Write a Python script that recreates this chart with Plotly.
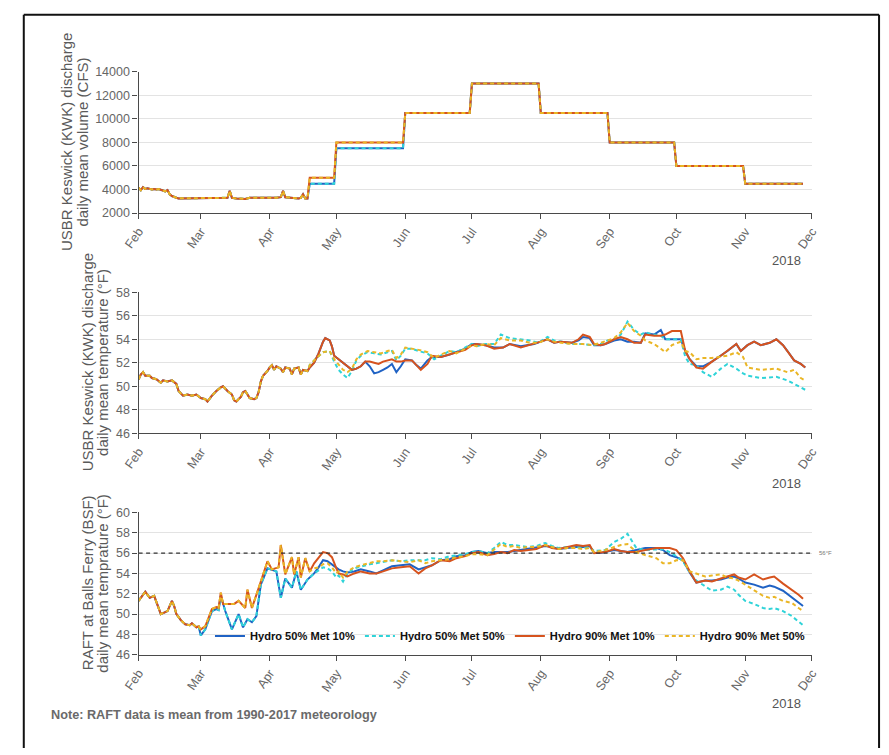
import pandas as pd
import plotly.graph_objects as go

# ---------------- DATA (days counted from 2018-02-01) ----------------
START = "2018-02-01"
END = "2018-12-01"
month_ticks = ["2018-02-01", "2018-03-01", "2018-04-01", "2018-05-01", "2018-06-01", "2018-07-01",
               "2018-08-01", "2018-09-01", "2018-10-01", "2018-11-01", "2018-12-01"]
month_labels = ["Feb", "Mar", "Apr", "May", "Jun", "Jul", "Aug", "Sep", "Oct", "Nov", "Dec"]

series_names = ["Hydro 50% Met 10%", "Hydro 50% Met 50%", "Hydro 90% Met 10%", "Hydro 90% Met 50%"]

# Discharge (CFS)
dis_shared_days = [0, 1, 2, 3, 4, 5, 6, 7, 8, 9, 10, 11, 12, 13, 14, 15, 16, 17, 18, 22, 26, 30, 34, 38, 40, 41,
                   42, 44, 48, 50, 54, 58, 62, 64, 65, 66, 68, 72, 73, 74, 75, 76]
dis_shared_vals = [4150, 3950, 4200, 4050, 4100, 4050, 4000, 4050, 4000, 4050, 4000, 3950, 3850, 3950, 3600, 3450,
                   3350, 3300, 3250, 3250, 3250, 3300, 3250, 3300, 3300, 3900, 3300, 3250, 3200, 3300, 3300, 3250,
                   3300, 3350, 3900, 3350, 3300, 3250, 3300, 3600, 3250, 3250]
dis_step_days = [77, 88, 89, 119, 120, 149, 150, 180, 181, 211, 212, 241, 242, 272, 273, 299]
dis_hydro90_vals = [5000, 5000, 8000, 8000, 10500, 10500, 13000, 13000, 10500, 10500, 8000, 8000, 6000, 6000, 4500, 4500]
dis_hydro50_vals = [4500, 4500, 7500, 7500, 10500, 10500, 13000, 13000, 10500, 10500, 8000, 8000, 6000, 6000, 4500, 4500]

# Keswick temperature (F)
mid_shared_days = [0, 1, 2, 3, 5, 6, 8, 10, 11, 13, 15, 17, 18, 20, 22, 24, 26, 28, 30, 31, 33, 35, 37, 38, 40, 42,
                   43, 44, 46, 47, 48, 50, 52, 53, 54, 55, 56, 58, 59, 60, 61, 62, 64, 65, 66, 68, 69, 70, 72, 73, 74, 76]
mid_shared_vals = [50.6, 51.0, 51.2, 50.9, 50.9, 50.7, 50.6, 50.3, 50.5, 50.4, 50.5, 50.2, 49.6, 49.2, 49.3, 49.2,
                   49.3, 49.0, 48.9, 48.7, 49.2, 49.6, 49.9, 50.0, 49.6, 49.3, 48.8, 48.7, 49.1, 49.5, 49.6, 49.0,
                   48.9, 49.0, 49.5, 50.4, 50.9, 51.3, 51.6, 51.8, 51.4, 51.7, 51.5, 51.2, 51.6, 51.5, 51.0, 51.5,
                   51.6, 51.0, 51.4, 51.3]
mid_met10_days = [77, 79, 81, 83, 84, 85, 86, 87, 88, 90, 92, 94, 96, 98, 100, 102, 104, 106, 108, 110, 112, 114, 116,
                  118, 120, 123, 125, 127, 130, 132, 136, 140, 143, 147, 150,
                  152, 156, 160, 164, 167, 172, 176, 178, 181, 184, 187, 190, 195, 198, 200, 203, 205, 208, 210, 214,
                  217, 220, 223, 226, 228, 232, 235, 237, 240, 244, 246, 248, 251, 254, 258, 262, 265, 269, 271, 274,
                  277, 280, 284, 287, 290, 292, 295, 298, 300]
mid_h50m10_vals = [51.6, 52.0, 52.8, 53.8, 54.1, 54.0, 53.9, 53.4, 52.6, 52.3, 52.0, 51.7, 51.4, 51.5, 51.7, 52.1,
                   51.7, 51.1, 51.2, 51.4, 51.6, 51.9, 51.2, 51.7, 52.3, 52.2, 51.8, 51.5, 52.2, 52.5, 52.5, 52.7,
                   52.9, 53.2, 53.6,
                   53.6, 53.5, 53.3, 53.3, 53.6, 53.4, 53.5, 53.6, 53.8, 54.0, 53.7, 53.8, 53.7, 53.9, 54.2, 54.1,
                   53.5, 53.5, 53.6, 53.9, 54.0, 53.8, 53.8, 53.7, 54.5, 54.4, 54.8, 54.0, 54.0, 54.0, 53.0, 52.3,
                   51.7, 51.7, 52.1, 52.6, 53.0, 53.6, 53.0, 53.5, 53.8, 53.5, 53.7, 54.0, 53.5, 53.0, 52.2, 51.9, 51.6]
mid_h90m10_vals = [51.6, 52.0, 52.8, 53.8, 54.1, 54.0, 53.9, 53.4, 52.6, 52.3, 52.0, 51.7, 51.4, 51.5, 51.7, 52.1,
                   52.1, 52.0, 51.9, 52.1, 52.2, 52.3, 52.1, 52.1, 52.2, 52.2, 51.8, 51.4, 51.9, 52.6, 52.5, 52.7,
                   52.9, 53.1, 53.5,
                   53.6, 53.5, 53.2, 53.3, 53.6, 53.3, 53.5, 53.6, 53.8, 54.0, 53.7, 53.8, 53.7, 54.0, 54.4, 54.2,
                   53.6, 53.5, 53.6, 54.0, 54.2, 54.0, 53.7, 53.7, 54.4, 54.3, 54.3, 54.4, 54.7, 54.7, 53.0, 52.3,
                   51.6, 51.5, 52.1, 52.6, 53.0, 53.6, 53.0, 53.5, 53.8, 53.5, 53.7, 54.0, 53.5, 53.0, 52.2, 51.9, 51.6]
mid_met50_days = [77, 80, 83, 86, 88, 90, 92, 94, 96, 98, 100, 103, 106, 109, 112, 114, 116, 118, 120, 123, 126, 130,
                  133, 136, 140, 143, 147, 150,
                  152, 156, 160, 163, 167, 172, 176, 180, 184, 187, 190, 195, 200, 204, 208, 211, 214, 217, 220, 223,
                  226, 228, 232, 235, 237, 240, 244, 246, 248, 251, 254, 258, 262, 265, 269, 272, 274, 280, 287, 292,
                  295, 298, 300]
mid_h50m50_vals = [51.8, 52.4, 52.9, 53.0, 52.1, 51.4, 51.0, 50.7, 51.3, 52.2, 52.6, 52.9, 52.8, 52.7, 52.9, 53.0,
                   52.2, 52.6, 53.2, 53.2, 53.0, 52.8, 52.3, 52.6, 53.0, 52.9, 53.3, 53.6,
                   53.4, 53.6, 53.6, 54.4, 54.1, 54.0, 53.9, 53.7, 54.2, 53.9, 53.8, 53.6, 53.6, 53.5, 53.6, 53.9,
                   54.0, 54.4, 55.5, 54.8, 54.4, 54.6, 54.4, 54.3, 54.0, 54.0, 54.0, 52.5, 51.9, 51.8, 51.2, 50.8,
                   51.5, 51.9, 51.5, 51.1, 50.9, 50.7, 50.8, 50.5, 50.2, 49.9, 49.7]
mid_h90m50_vals = [51.8, 52.4, 52.9, 53.0, 52.3, 51.8, 51.4, 51.2, 51.5, 52.3, 52.7, 53.0, 52.9, 52.8, 53.0, 53.1,
                   52.4, 52.7, 53.3, 53.2, 53.1, 52.9, 52.4, 52.7, 53.0, 52.8, 53.2, 53.5,
                   53.4, 53.6, 53.5, 54.1, 53.9, 53.9, 53.7, 53.7, 54.0, 53.8, 53.7, 53.6, 53.6, 53.5, 53.7, 53.9,
                   54.1, 54.6, 55.4, 54.7, 54.3, 53.9, 53.6, 53.2, 52.9, 53.5, 53.8, 53.0, 52.9, 52.3, 52.4, 52.4,
                   52.5, 52.6, 52.9, 52.5, 51.6, 51.4, 51.5, 51.2, 51.4, 50.7, 50.5]

# Balls Ferry temperature (F)
bot_shared_days = [0, 2, 3, 5, 7, 8, 10, 12, 13, 15, 16, 17, 19, 21, 23, 24, 26, 27]
bot_shared_vals = [51.3, 51.9, 52.2, 51.6, 51.8, 51.2, 50.0, 50.2, 50.3, 51.3, 50.8, 50.0, 49.4, 49.0, 48.9, 49.1,
                   48.7, 48.8]
bot_h90_early_days = [28, 30, 32, 33, 35, 36, 37, 38, 40, 43, 45, 48, 49, 51, 55, 58, 60, 63, 64, 66, 69, 70, 72,
                      73, 75, 77]
bot_h90_early_vals = [48.5, 48.8, 50.0, 50.5, 50.7, 50.6, 52.1, 51.0, 51.0, 51.0, 51.3, 50.6, 52.4, 50.6, 53.2,
                      55.2, 54.4, 54.6, 56.8, 53.9, 55.6, 53.9, 55.6, 53.6, 55.5, 54.2]
bot_h50_early_days = [28, 30, 32, 33, 35, 36, 37, 39, 42, 45, 47, 49, 51, 53, 55, 58, 62, 64, 66, 69, 71, 73, 76, 77]
bot_h50_early_vals = [47.9, 48.5, 49.8, 50.3, 50.5, 50.4, 51.8, 50.3, 48.5, 50.0, 48.7, 49.5, 49.2, 49.8, 52.9,
                      54.5, 54.2, 51.6, 53.5, 52.6, 54.2, 52.4, 53.4, 53.6]
bot_tail_days = [79, 81, 83, 85, 87, 89, 90, 92, 94, 97, 100, 104, 107, 110, 114, 118, 122, 126, 129, 132, 136, 140,
                 143, 147, 150,
                 153, 157, 160, 163, 166, 169, 172, 175, 179, 183, 186, 189, 193, 197, 200, 203, 205, 208, 210, 214,
                 217, 220, 224, 228, 233, 236, 239, 242, 245, 248, 251, 255, 258, 262, 265, 268, 270, 273, 277, 281,
                 284, 286, 290, 294, 297, 299]
bot_h50m10_tail = [54.0, 54.6, 55.3, 55.2, 54.9, 54.6, 54.4, 54.2, 54.1, 54.2, 54.4, 54.2, 54.0, 54.3, 54.7, 54.8,
                   54.9, 54.4, 54.6, 54.8, 55.3, 55.4, 55.7, 55.8, 56.1,
                   56.2, 56.0, 56.1, 56.1, 56.1, 56.2, 56.3, 56.4, 56.5, 56.7, 56.6, 56.4, 56.5, 56.6, 56.6, 56.7,
                   56.0, 56.0, 56.1, 56.3, 56.2, 56.1, 56.3, 56.5, 56.5, 56.3, 55.8, 55.6, 55.3, 54.1, 53.1, 53.3,
                   53.3, 53.4, 53.6, 53.7, 53.5, 53.1, 52.9, 52.6, 52.8, 52.7, 52.3, 51.6, 51.1, 50.8]
bot_h50m50_tail = [54.0, 54.3, 54.6, 54.5, 54.2, 53.6, 53.8, 53.2, 54.0, 54.5, 54.7, 54.9, 55.0, 55.1, 55.3, 55.2,
                   55.3, 55.3, 55.3, 55.5, 55.4, 55.7, 55.8, 55.9, 56.1,
                   56.2, 56.0, 56.5, 57.1, 56.8, 56.8, 56.7, 56.6, 56.7, 57.0, 56.7, 56.5, 56.6, 56.6, 56.5, 56.6,
                   56.2, 56.3, 56.3, 57.1, 57.4, 57.9, 56.5, 56.3, 56.4, 56.4, 56.1, 55.7, 55.2, 54.1, 53.3, 52.7,
                   52.3, 52.4, 52.7, 52.4, 51.9, 51.3, 51.0, 50.6, 50.5, 50.6, 50.3, 49.8, 49.3, 48.9]
bot_h90m10_tail = [55.0, 55.5, 56.1, 56.0, 55.6, 54.5, 54.0, 53.9, 53.7, 54.0, 54.2, 54.0, 54.0, 54.2, 54.5, 54.6,
                   54.7, 54.0, 54.5, 54.8, 55.3, 55.2, 55.5, 55.7, 56.0,
                   56.1, 55.8, 55.9, 56.1, 56.0, 56.3, 56.2, 56.3, 56.4, 56.8, 56.5, 56.4, 56.6, 56.8, 56.7, 56.8,
                   56.0, 56.1, 56.1, 56.4, 56.2, 56.1, 56.1, 56.3, 56.5, 56.5, 56.5, 56.3, 55.5, 54.2, 53.1, 53.3,
                   53.2, 53.5, 53.7, 53.9, 53.6, 53.4, 53.9, 53.4, 53.6, 53.7, 53.0, 52.4, 51.9, 51.5]
bot_h90m50_tail = [54.5, 54.6, 54.9, 55.0, 54.6, 54.0, 54.2, 53.6, 54.2, 54.6, 54.8, 55.0, 55.2, 55.2, 55.3, 55.2,
                   55.1, 55.3, 55.0, 55.2, 55.3, 55.4, 55.6, 55.7, 55.9,
                   55.9, 55.8, 56.4, 56.9, 56.6, 56.7, 56.5, 56.6, 56.6, 56.8, 56.6, 56.4, 56.5, 56.5, 56.4, 56.5,
                   56.1, 56.2, 56.3, 56.6, 56.8, 56.9, 56.1, 55.8, 55.5, 55.0, 55.0, 55.3, 55.3, 54.2, 54.0, 53.7,
                   53.8, 53.9, 53.6, 53.5, 53.3, 52.9, 52.3, 51.8, 51.6, 51.7, 51.3, 51.1, 50.6, 50.3]

threshold_f = 56
threshold_label = "56°F"

# ---------------- BUILD SERIES ----------------
def dates(days):
    return pd.Timestamp(START) + pd.to_timedelta(days, unit="D")

top_series = [
    (dis_shared_days + dis_step_days, dis_shared_vals + dis_hydro50_vals),
    (dis_shared_days + dis_step_days, dis_shared_vals + dis_hydro50_vals),
    (dis_shared_days + dis_step_days, dis_shared_vals + dis_hydro90_vals),
    (dis_shared_days + dis_step_days, dis_shared_vals + dis_hydro90_vals),
]
mid_series = [
    (mid_shared_days + mid_met10_days, mid_shared_vals + mid_h50m10_vals),
    (mid_shared_days + mid_met50_days, mid_shared_vals + mid_h50m50_vals),
    (mid_shared_days + mid_met10_days, mid_shared_vals + mid_h90m10_vals),
    (mid_shared_days + mid_met50_days, mid_shared_vals + mid_h90m50_vals),
]
bot_series = [
    (bot_shared_days + bot_h50_early_days + bot_tail_days, bot_shared_vals + bot_h50_early_vals + bot_h50m10_tail),
    (bot_shared_days + bot_h50_early_days + bot_tail_days, bot_shared_vals + bot_h50_early_vals + bot_h50m50_tail),
    (bot_shared_days + bot_h90_early_days + bot_tail_days, bot_shared_vals + bot_h90_early_vals + bot_h90m10_tail),
    (bot_shared_days + bot_h90_early_days + bot_tail_days, bot_shared_vals + bot_h90_early_vals + bot_h90m50_tail),
]

colors = ["#1f62c4", "#2fd3d8", "#d6531e", "#eab626"]
dashes = ["solid", "4px,3px", "solid", "4px,3px"]

W, H = 889, 755
def px(x):
    return x / W
def py(y):
    return 1 - y / H

fig = go.Figure()
panels = [("x", "y", top_series), ("x2", "y2", mid_series), ("x3", "y3", bot_series)]
for pi, (xa, ya, ser) in enumerate(panels):
    for i, (d, v) in enumerate(ser):
        fig.add_trace(go.Scatter(
            x=dates(d), y=v, xaxis=xa, yaxis=ya, mode="lines",
            name=series_names[i], legendgroup=series_names[i],
            showlegend=(pi == 2),
            line=dict(color=colors[i], width=2, dash=dashes[i]),
        ))

fig.add_trace(go.Scatter(
    x=[START, END], y=[threshold_f, threshold_f], xaxis="x3", yaxis="y3", mode="lines",
    showlegend=False, line=dict(color="#333333", width=1.2, dash="4px,3.5px"),
))

FONT = "Liberation Sans, Arial, Helvetica, sans-serif"
x_dom = [px(126), px(818)]
y_doms = [[py(210), py(66)], [py(434.3), py(290.7)], [py(660), py(515)]]
y_ranges = [[2000, 14000], [46, 58], [46, 60]]
y_dticks = [2000, 2, 2]

axis_common = dict(showline=True, linecolor="#4a4a4a", linewidth=1.4, ticks="outside", ticklen=5,
                   tickwidth=1.2, tickcolor="#4a4a4a", tickfont=dict(family=FONT, size=12.5, color="#666666"),
                   zeroline=False)
layout = dict(
    width=W, height=H, autosize=False, margin=dict(l=0, r=0, t=0, b=0),
    paper_bgcolor="white", plot_bgcolor="white", font=dict(family=FONT),
)
for k in range(3):
    sx = "" if k == 0 else str(k + 1)
    layout["xaxis" + sx] = dict(
        domain=x_dom, anchor="y" + sx, type="date", range=[START, END],
        tickmode="array", tickvals=month_ticks, ticktext=month_labels, tickangle=-55,
        showgrid=False, **axis_common)
    layout["yaxis" + sx] = dict(
        domain=y_doms[k], anchor="x" + sx, range=y_ranges[k], dtick=y_dticks[k], tick0=y_ranges[k][0],
        tickformat="d", showgrid=True, gridcolor="#e3e3e3", gridwidth=1, **axis_common)

fig.update_layout(**layout)

fig.update_layout(legend=dict(
    orientation="h", x=px(816), xanchor="right", y=py(641), yanchor="middle",
    bgcolor="rgba(0,0,0,0)", borderwidth=0, traceorder="normal",
    font=dict(family=FONT, size=11.1, color="#111111", weight="bold"),
    itemwidth=30,
))

title_font = dict(family=FONT, size=15, color="#5a5a5a")
titles = [
    ("USBR Keswick (KWK) discharge", "daily mean volume (CFS)", 52, 68, 138),
    ("USBR Keswick (KWK) discharge", "daily mean temperature (°F)", 73, 89, 362),
    ("RAFT at Balls Ferry (BSF)", "daily mean temprature (°F)", 73, 89, 587),
]
ann = []
for l1, l2, x1, x2, yc in titles:
    ann.append(dict(text=l1, x=px(x1), y=py(yc), xref="paper", yref="paper", textangle=-90,
                    showarrow=False, xanchor="center", yanchor="middle", font=title_font))
    ann.append(dict(text=l2, x=px(x2), y=py(yc), xref="paper", yref="paper", textangle=-90,
                    showarrow=False, xanchor="center", yanchor="middle", font=title_font))
for yy in [258, 485, 710]:
    ann.append(dict(text="2018", x=px(792), y=py(yy), xref="paper", yref="paper", showarrow=False,
                    xanchor="center", yanchor="middle", font=dict(family=FONT, size=13, color="#555555")))
ann.append(dict(text=threshold_label, x=px(832), y=threshold_f, xref="paper", yref="y3", showarrow=False,
                xanchor="center", yanchor="middle", font=dict(family=FONT, size=6, color="#777777")))
ann.append(dict(text="Note: RAFT data is mean from 1990-2017 meteorology", x=px(34), y=py(721),
                xref="paper", yref="paper", showarrow=False, xanchor="left", yanchor="middle",
                font=dict(family=FONT, size=12.7, color="#6a6a6a", weight="bold")))
fig.update_layout(annotations=ann)

frame = dict(type="line", xref="paper", yref="paper", line=dict(color="#111111", width=2))
fig.update_layout(shapes=[
    dict(frame, x0=px(8), x1=px(8), y0=py(8), y1=0),
    dict(frame, x0=px(8), x1=px(887), y0=py(8), y1=py(8)),
    dict(frame, x0=px(887), x1=px(887), y0=py(8), y1=0),
])

fig.write_html("out.html")
